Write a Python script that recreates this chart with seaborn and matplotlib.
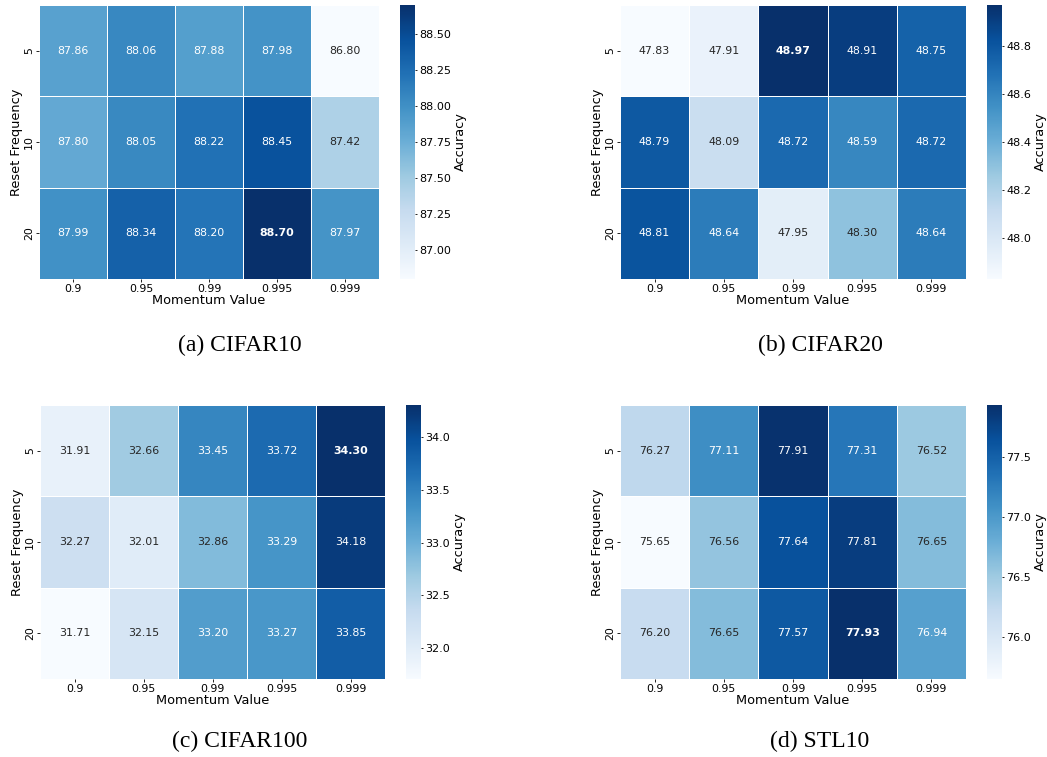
import numpy as np
import pandas as pd
import matplotlib
matplotlib.use("Agg")
import matplotlib.pyplot as plt
import seaborn as sns

momentum = ["0.9", "0.95", "0.99", "0.995", "0.999"]
reset_freq = ["5", "10", "20"]

cifar10 = [
    [87.86, 88.06, 87.88, 87.98, 86.80],
    [87.80, 88.05, 88.22, 88.45, 87.42],
    [87.99, 88.34, 88.20, 88.70, 87.97],
]
cifar20 = [
    [47.83, 47.91, 48.97, 48.91, 48.75],
    [48.79, 48.09, 48.72, 48.59, 48.72],
    [48.81, 48.64, 47.95, 48.30, 48.64],
]
cifar100 = [
    [31.91, 32.66, 33.45, 33.72, 34.30],
    [32.27, 32.01, 32.86, 33.29, 34.18],
    [31.71, 32.15, 33.20, 33.27, 33.85],
]
stl10 = [
    [76.27, 77.11, 77.91, 77.31, 76.52],
    [75.65, 76.56, 77.64, 77.81, 76.65],
    [76.20, 76.65, 77.57, 77.93, 76.94],
]

captions = ["(a) CIFAR10", "(b) CIFAR20", "(c) CIFAR100", "(d) STL10"]
datasets = [cifar10, cifar20, cifar100, stl10]

W, H = 1047, 757
fig = plt.figure(figsize=(W / 100, H / 100), dpi=100)


def px_rect(x0, y0, x1, y1):
    return [x0 / W, 1 - y1 / H, (x1 - x0) / W, (y1 - y0) / H]


# pixel boxes: heatmap, colorbar, caption centre
layout = [
    ((39, 5, 379, 279), (400, 5, 415, 279), (240, 345)),
    ((620, 5, 966, 279), (987, 5, 1002, 279), (820, 345)),
    ((40, 405, 385, 679), (406, 405, 421, 679), (240, 741)),
    ((620, 405, 966, 679), (987, 405, 1002, 679), (820, 741)),
]

for values, caption, (hm_box, cb_box, cap_xy) in zip(datasets, captions, layout):
    df = pd.DataFrame(values, index=reset_freq, columns=momentum)
    ax = fig.add_axes(px_rect(*hm_box))
    cax = fig.add_axes(px_rect(*cb_box))
    sns.heatmap(
        df, ax=ax, cbar_ax=cax, cmap="Blues", annot=True, fmt=".2f",
        linewidths=0.6, linecolor="white",
        annot_kws={"fontsize": 7.9},
        cbar_kws={"label": "Accuracy"},
    )
    # highlight the best accuracy in bold
    best = f"{np.max(values):.2f}"
    for t in ax.texts:
        if t.get_text() == best:
            t.set_fontweight("bold")
    ax.set_xlabel("Momentum Value", fontsize=9.3, labelpad=0)
    ax.set_ylabel("Reset Frequency", fontsize=9.3, labelpad=1)
    ax.tick_params(axis="both", labelsize=7.9, length=2, width=0.6, pad=1.5)
    ax.set_yticklabels(reset_freq, rotation=90, va="center")
    ax.set_xticklabels(momentum, rotation=0)
    cax.tick_params(labelsize=8, length=1.5, width=0.6, pad=1.5)
    cax.set_ylabel("Accuracy", fontsize=9.3, labelpad=2)
    fig.text(cap_xy[0] / W, 1 - cap_xy[1] / H, caption, ha="center", va="center",
             fontsize=17, family="Liberation Serif")

fig.savefig("out.png", dpi=100)
